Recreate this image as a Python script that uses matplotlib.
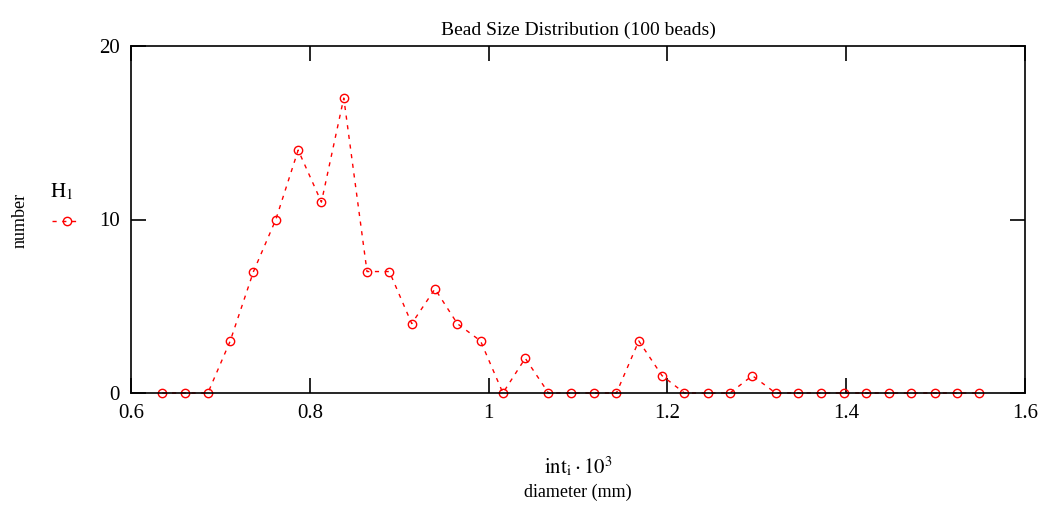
import matplotlib
matplotlib.use("Agg")
import matplotlib.pyplot as plt
from matplotlib.lines import Line2D

plt.rcParams['font.family'] = ['Liberation Serif', 'DejaVu Serif']
plt.rcParams['mathtext.fontset'] = 'stix'

diameter_mm = [0.635, 0.660, 0.686, 0.711, 0.737, 0.762, 0.787, 0.813, 0.838, 0.864,
               0.889, 0.914, 0.940, 0.965, 0.991, 1.016, 1.041, 1.067, 1.092, 1.118,
               1.143, 1.168, 1.194, 1.219, 1.245, 1.270, 1.295, 1.321, 1.346, 1.372,
               1.397, 1.422, 1.448, 1.473, 1.499, 1.524, 1.549]
counts = [0, 0, 0, 3, 7, 10, 14, 11, 17, 7,
          7, 4, 6, 4, 3, 0, 2, 0, 0, 0,
          0, 3, 1, 0, 0, 0, 1, 0, 0, 0,
          0, 0, 0, 0, 0, 0, 0]
x_ticks = [0.6, 0.8, 1.0, 1.2, 1.4, 1.6]
x_tick_labels = ["0.6", "0.8", "1", "1.2", "1.4", "1.6"]
y_ticks = [0, 10, 20]

fig = plt.figure(figsize=(10.41, 5.16), dpi=100)
ax = fig.add_axes([131/1041, 1-393/516, (1025-131)/1041, (393-46)/516])

red = '#ff0000'
ax.plot(diameter_mm, counts, color=red, lw=1.0, linestyle=(0, (3, 4)),
        marker='o', markersize=6, markerfacecolor='none', markeredgecolor=red,
        markeredgewidth=1.0, clip_on=False)

ax.set_xlim(0.6, 1.6)
ax.set_ylim(0, 20)
ax.set_xticks(x_ticks)
ax.set_xticklabels(x_tick_labels)
ax.set_yticks(y_ticks)
ax.tick_params(direction='in', length=11, width=1.2, labelsize=15, top=True, right=True,
               pad=8, colors='black')
for s in ax.spines.values():
    s.set_linewidth(1.2)
    s.set_color('black')

ax.set_title("Bead Size Distribution (100 beads)", fontsize=14, pad=8)

fig.text(20/1041, 1-220/516, "number", rotation=90, ha='center', va='center', fontsize=13)
fig.text(62/1041, 1-192/516, r"$\mathrm{H}_{1}$", ha='center', va='center', fontsize=15)
leg_line = Line2D([52/1041, 78/1041], [1-221/516, 1-221/516], transform=fig.transFigure,
                  color=red, lw=1.0, linestyle=(0, (3, 4)))
leg_mark = Line2D([67/1041], [1-221/516], transform=fig.transFigure, color=red,
                  marker='o', markersize=6, markerfacecolor='none', linestyle='none')
fig.add_artist(leg_line)
fig.add_artist(leg_mark)

fig.text(578/1041, 1-467/516, r"$\mathrm{int}_{\mathrm{i}}\cdot 10^{3}$", ha='center',
         va='center', fontsize=15)
fig.text(578/1041, 1-492/516, "diameter (mm)", ha='center', va='center', fontsize=13)

fig.savefig("out.png", dpi=100)
